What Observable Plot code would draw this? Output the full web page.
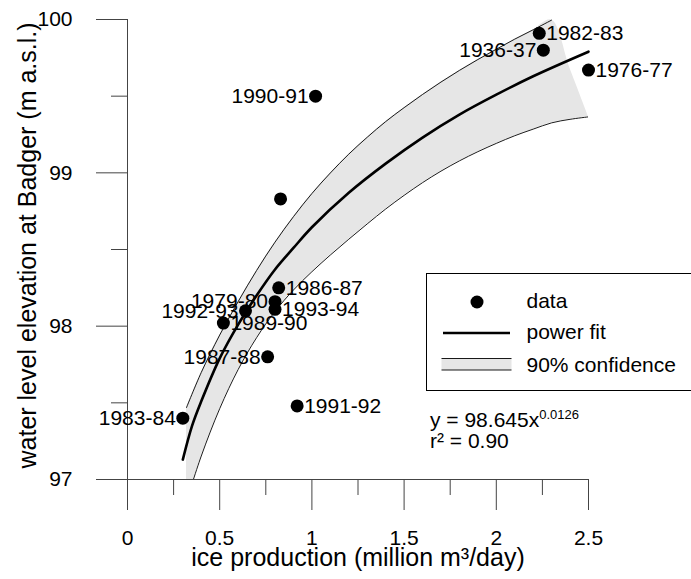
<!DOCTYPE html>
<html>
<head>
<meta charset="utf-8">
<script src="https://cdn.jsdelivr.net/npm/d3@7"></script>
<script src="https://cdn.jsdelivr.net/npm/@observablehq/plot@0.6"></script>
<style>
  html, body { margin: 0; padding: 0; background: #fff; overflow: hidden; }
  #wrap { position: relative; width: 691px; height: 579px; font-family: "Liberation Sans", Arial, Helvetica, sans-serif; }
  #overlay { position: absolute; left: 0; top: 0; pointer-events: none; }
</style>
</head>
<body>
<div id="wrap"></div>
<script>
// ---- data ----
const seasons    = ["1982-83", "1936-37", "1976-77", "1990-91", "", "1986-87", "1979-80", "1993-94", "1992-93", "1989-90", "1987-88", "1983-84", "1991-92"];
const iceProd    = [2.233, 2.255, 2.50, 1.02, 0.83, 0.82, 0.80, 0.80, 0.64, 0.52, 0.76, 0.30, 0.92];
const waterLevel = [99.91, 99.80, 99.67, 99.50, 98.83, 98.25, 98.16, 98.11, 98.10, 98.02, 97.80, 97.40, 97.48];
const labelSide  = ["right", "left", "right", "left", "none", "right", "left", "right", "left", "right", "left", "left", "right"];

// power fit y = 98.645 x^0.0126 (curve)
const fitX = [0.30, 0.35, 0.40, 0.50, 0.60, 0.70, 0.80, 0.90, 1.00, 1.20, 1.40, 1.60, 1.80, 2.00, 2.20, 2.50];
const fitY = [97.13, 97.35, 97.51, 97.79, 98.01, 98.20, 98.37, 98.51, 98.645, 98.87, 99.06, 99.23, 99.38, 99.51, 99.63, 99.79];

// 90% confidence band (upper edge ends at 2.3 on the top of the frame)
const bandX     = [0.32, 0.40, 0.50, 0.60, 0.70, 0.80, 0.90, 1.00, 1.10, 1.20, 1.30, 1.40, 1.50, 1.60, 1.70, 1.80, 1.90, 2.00, 2.10, 2.20, 2.30, 2.40, 2.50];
const bandUpper = [97.469, 97.698, 97.942, 98.160, 98.363, 98.548, 98.714, 98.865, 98.999, 99.122, 99.232, 99.334, 99.425, 99.511, 99.592, 99.668, 99.739, 99.806, 99.872, 99.933, 99.996, 99.68, 99.365];
const bandLower = [96.859, 97.153, 97.462, 97.717, 97.925, 98.096, 98.236, 98.355, 98.464, 98.567, 98.667, 98.764, 98.853, 98.936, 99.011, 99.078, 99.138, 99.192, 99.242, 99.285, 99.326, 99.349, 99.365];
const upperEdgeEnd = 2.30;

const xTicks = [0, 0.5, 1, 1.5, 2, 2.5];
const xMinorTicks = [0.25, 0.75, 1.25, 1.75, 2.25];
const yTicks = [97, 98, 99, 100];
const yMinorTicks = [97.5, 98.5, 99.5];

const xTitle = "ice production (million m³/day)";
const yTitle = "water level elevation at Badger (m a.s.l.)";
const legendLabels = ["data", "power fit", "90% confidence"];
const eqMain = "y = 98.645x";
const eqExp = "0.0126";
const eqR2 = "r² = 0.90";

// ---- tables built from the arrays ----
const points = seasons.map((s, i) => ({season: s, x: iceProd[i], y: waterLevel[i], side: labelSide[i]}));
const fit = fitX.map((x, i) => ({x, y: fitY[i]}));
const band = bandX.map((x, i) => ({x, lo: bandLower[i], hi: bandUpper[i]}));
const upperLine = band.filter(d => d.x <= upperEdgeEnd + 1e-9);

const FONT = "Liberation Sans, Arial, Helvetica, sans-serif";
const AX = "#444";

const chart = Plot.plot({
  width: 691,
  height: 579,
  marginLeft: 127,
  marginRight: 103,
  marginTop: 19,
  marginBottom: 100,
  x: {domain: [0, 2.5]},
  y: {domain: [97, 100]},
  style: {fontFamily: FONT, fontSize: "21px", color: "#000", background: "transparent"},
  marks: [
    Plot.areaY(band, {x: "x", y1: "lo", y2: "hi", fill: "#e6e6e6", curve: "catmull-rom", clip: true}),
    Plot.line(upperLine, {x: "x", y: "hi", stroke: "#000", strokeWidth: 0.9, curve: "catmull-rom", clip: true}),
    Plot.line(band, {x: "x", y: "lo", stroke: "#000", strokeWidth: 0.9, curve: "catmull-rom", clip: true}),
    Plot.line(fit, {x: "x", y: "y", stroke: "#000", strokeWidth: 2.6, curve: "catmull-rom"}),
    Plot.ruleX([0], {y1: 97, y2: 100, stroke: AX, strokeWidth: 1}),
    Plot.ruleY([97], {x1: 0, x2: 2.5, stroke: AX, strokeWidth: 1}),
    Plot.axisY(yTicks, {tickSize: 31, stroke: AX, label: null, tickFormat: () => ""}),
    Plot.text(yTicks, {y: d => d, frameAnchor: "left", dx: -55, textAnchor: "end", fontSize: 21, fill: "#000", text: d => String(d)}),
    Plot.axisY(yMinorTicks, {tickSize: 16, stroke: AX, label: null, tickFormat: () => ""}),
    Plot.axisX(xTicks, {tickSize: 31, tickPadding: 20, stroke: AX, fill: "#000", fontSize: 21, label: null, tickFormat: d => String(d)}),
    Plot.axisX(xMinorTicks, {tickSize: 16, stroke: AX, label: null, tickFormat: () => ""}),
    Plot.dot(points, {x: "x", y: "y", r: 6.5, fill: "#000", stroke: "none"}),
    Plot.text(points.filter(d => d.side === "left"), {x: "x", y: "y", text: "season", textAnchor: "end", dx: -7, fontSize: 21, fill: "#000"}),
    Plot.text(points.filter(d => d.side === "right"), {x: "x", y: "y", text: "season", textAnchor: "start", dx: 7, fontSize: 21, fill: "#000"}),
    Plot.text([xTitle], {frameAnchor: "bottom", dy: 86, fontSize: 25, fill: "#000"}),
    Plot.text([yTitle], {frameAnchor: "left", textAnchor: "middle", dx: -100, dy: -4, rotate: -90, fontSize: 25, fill: "#000"})
  ]
});

const wrap = document.getElementById("wrap");
wrap.appendChild(chart);

// ---- legend and equation overlay ----
const ns = "http://www.w3.org/2000/svg";
const ov = document.createElementNS(ns, "svg");
ov.setAttribute("id", "overlay");
ov.setAttribute("width", 691);
ov.setAttribute("height", 579);
ov.setAttribute("font-family", FONT);
function el(tag, attrs, text) {
  const e = document.createElementNS(ns, tag);
  for (const k in attrs) e.setAttribute(k, attrs[k]);
  if (text != null) e.textContent = text;
  ov.appendChild(e);
  return e;
}
const L = 426.5, T = 273.5;
el("rect", {x: L, y: T, width: 300, height: 117, fill: "#fff", stroke: "#000", "stroke-width": 1});
el("circle", {cx: L + 50.5, cy: T + 28.5, r: 6.5, fill: "#000"});
el("line", {x1: L + 16.5, x2: L + 83.5, y1: T + 59.5, y2: T + 59.5, stroke: "#000", "stroke-width": 2.6});
el("rect", {x: L + 15, y: T + 85, width: 70, height: 11.5, fill: "#e6e6e6"});
el("line", {x1: L + 15, x2: L + 85, y1: T + 85, y2: T + 85, stroke: "#000", "stroke-width": 0.9});
el("line", {x1: L + 15, x2: L + 85, y1: T + 96.5, y2: T + 96.5, stroke: "#000", "stroke-width": 0.9});
const legY = [34.7, 65.7, 98.4];
legendLabels.forEach((t, i) => el("text", {x: L + 100, y: T + legY[i], "font-size": 21, fill: "#000"}, t));
const eq = el("text", {x: 430, y: 427, "font-size": 21, fill: "#000"}, eqMain);
const sup = document.createElementNS(ns, "tspan");
sup.setAttribute("dy", -8);
sup.setAttribute("font-size", 13);
sup.textContent = eqExp;
eq.appendChild(sup);
el("text", {x: 430, y: 448, "font-size": 21, fill: "#000"}, eqR2);
wrap.appendChild(ov);
</script>
</body>
</html>
